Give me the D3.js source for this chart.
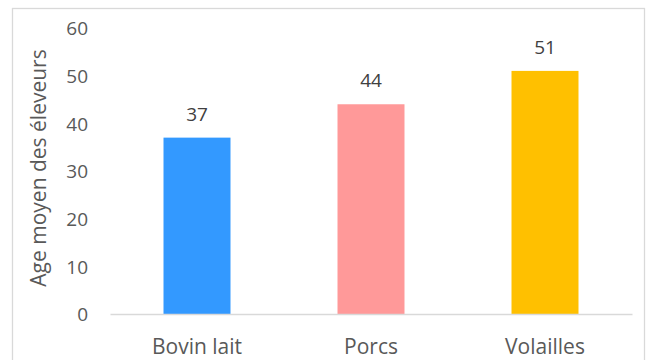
<!DOCTYPE html>
<html>
<head>
<meta charset="utf-8">
<script src="https://cdn.jsdelivr.net/npm/d3@7"></script>
<style>
  html, body { margin: 0; padding: 0; background: #fff; }
  svg { display: block; }
  svg text { font-family: "Open Sans", "Liberation Sans", sans-serif; }
</style>
</head>
<body>
<svg id="chart" width="646" height="360"></svg>
<script>
// Average farmer age by production type
const categories = ["Bovin lait", "Porcs", "Volailles"];
const ages = [37, 44, 51];
const barColors = ["#3399ff", "#ff9999", "#ffc000"];
const yTicks = [0, 10, 20, 30, 40, 50, 60];
const yTitle = "Age moyen des éleveurs";

const svg = d3.select("#chart");
const W = 646, H = 360;
const margin = { left: 110, right: 14, top: 28, bottom: 46 };

// chart frame
svg.append("rect")
  .attr("x", 12.5).attr("y", 8.5)
  .attr("width", 632).attr("height", 370)
  .attr("fill", "none").attr("stroke", "#d9d9d9").attr("stroke-width", 1.3);

const x = d3.scaleBand()
  .domain(categories)
  .range([margin.left, W - margin.right])
  .paddingInner(0.615).paddingOuter(0.3075);

const y = d3.scaleLinear()
  .domain([0, 60])
  .range([H - margin.bottom, margin.top]);

// y axis (labels only)
const yAxis = svg.append("g")
  .attr("transform", `translate(${margin.left},0)`)
  .call(d3.axisLeft(y).tickValues(yTicks).tickSize(0).tickPadding(22));
yAxis.attr("font-family", null);
yAxis.select(".domain").remove();
yAxis.selectAll("text")
  .attr("fill", "#595959").attr("font-size", 19).attr("dy", "0.36em");

// bars
svg.append("g").selectAll("rect")
  .data(ages)
  .join("rect")
  .attr("x", (d, i) => x(categories[i]))
  .attr("y", d => y(d))
  .attr("width", x.bandwidth())
  .attr("height", d => y(0) - y(d))
  .attr("fill", (d, i) => barColors[i]);

// value labels
svg.append("g").selectAll("text")
  .data(ages)
  .join("text")
  .attr("x", (d, i) => x(categories[i]) + x.bandwidth() / 2)
  .attr("y", d => y(d) - 17)
  .attr("text-anchor", "middle")
  .attr("fill", "#404040")
  .attr("font-size", 19)
  .text(d => d);

// x axis baseline and category labels
const xAxis = svg.append("g")
  .attr("transform", `translate(0,${y(0)})`)
  .call(d3.axisBottom(x).tickSize(0).tickPadding(0));
xAxis.attr("font-family", null);
xAxis.select(".domain").attr("stroke", "#d9d9d9").attr("stroke-width", 1.5);
xAxis.selectAll("text")
  .attr("dy", null)
  .attr("y", 40)
  .attr("fill", "#595959").attr("font-size", 21);

// y axis title
svg.append("text")
  .attr("transform", `translate(46,${(y(0) + y(60)) / 2 - 3}) rotate(-90)`)
  .attr("text-anchor", "middle")
  .attr("fill", "#595959")
  .attr("font-size", 21)
  .text(yTitle);
</script>
</body>
</html>
